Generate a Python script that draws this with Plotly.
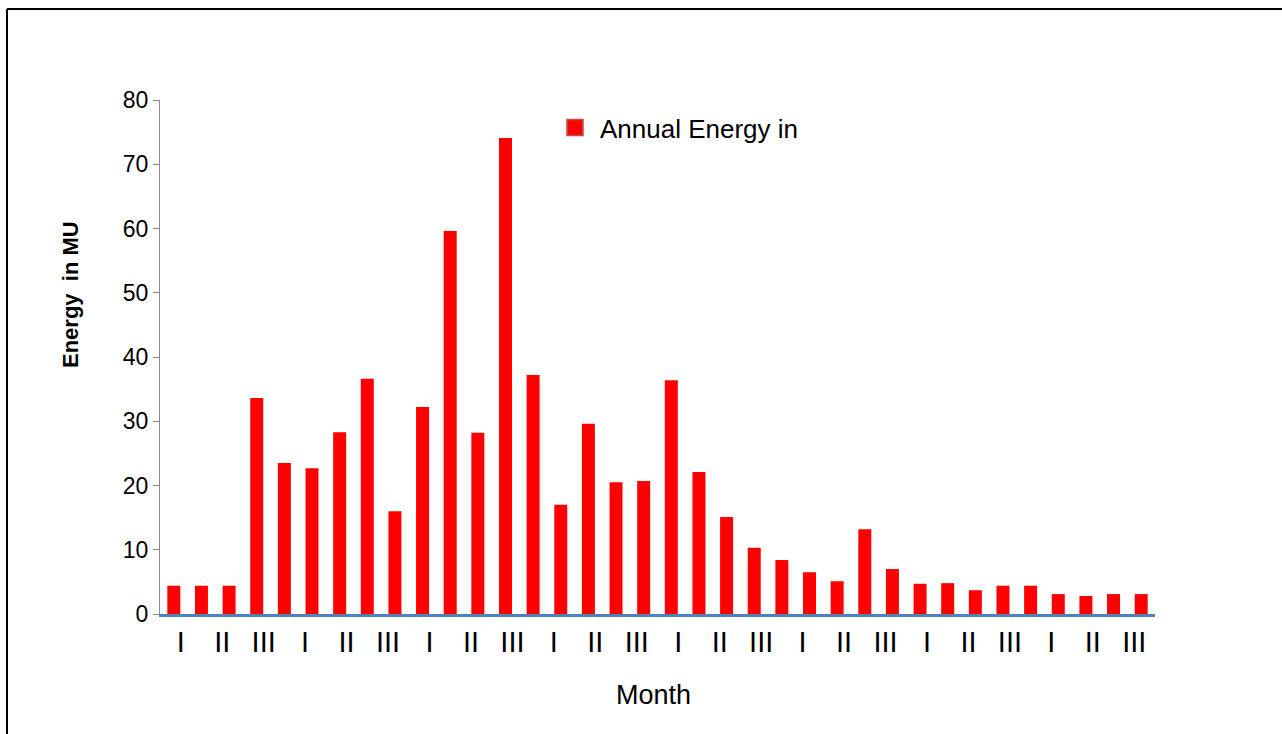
import plotly.graph_objects as go

# Ten-day periods (I, II, III) for each month, 36 periods in total
periods = list(range(1, 37))
energy_mu = [4.4, 4.4, 4.4, 33.6, 23.5, 22.7, 28.3, 36.6, 16.0, 32.2, 59.6, 28.2,
             74.1, 37.2, 17.0, 29.6, 20.5, 20.7, 36.4, 22.1, 15.1, 10.3, 8.4, 6.5,
             5.1, 13.2, 7.0, 4.7, 4.8, 3.7, 4.4, 4.4, 3.1, 2.8, 3.1, 3.1]

# Category labels printed under the axis
period_labels = ["I", "II", "III"] * 8
y_ticks = [0, 10, 20, 30, 40, 50, 60, 70, 80]
series_name = "Annual Energy in"

W, H = 1282, 734
L, R, T, B = 160, 127, 100, 120
font = "Liberation Sans, Arial, sans-serif"


def px_x(p):
    return (p - L) / (W - L - R)


def px_y(p):
    return (H - B - p) / (H - T - B)


fig = go.Figure()
fig.add_trace(go.Bar(
    x=periods, y=energy_mu, name=series_name,
    marker=dict(color="#ff0000", line=dict(width=0)),
    width=0.47, xaxis="x", yaxis="y", showlegend=False,
))
# legend key drawn as a larger red square
fig.add_trace(go.Scatter(
    x=[None], y=[None], name=series_name, mode="markers",
    marker=dict(symbol="square", size=17, color="#ff0000",
                line=dict(color="#c0504d", width=1.5)),
    showlegend=True, hoverinfo="skip",
))
# carrier for the period label axis
fig.add_trace(go.Scatter(
    x=list(range(len(period_labels))), y=[None] * len(period_labels),
    xaxis="x2", yaxis="y", mode="markers", showlegend=False, hoverinfo="skip",
))

fig.update_layout(
    width=W, height=H,
    margin=dict(l=L, r=R, t=T, b=B),
    paper_bgcolor="white", plot_bgcolor="white",
    xaxis=dict(range=[0.5, 36.5], showticklabels=False, ticks="",
               showgrid=False, zeroline=False,
               showline=True, linecolor="#4f81bd", linewidth=2.5),
    xaxis2=dict(overlaying="x", side="bottom", range=[-0.5, len(period_labels) - 0.5],
                tickmode="array", tickvals=list(range(len(period_labels))),
                ticktext=period_labels, ticks="", showgrid=False, zeroline=False,
                showline=False, ticklabelstandoff=8,
                tickfont=dict(family=font, size=29, color="black")),
    yaxis=dict(range=[0, 80], tickmode="array", tickvals=y_ticks,
               showgrid=False, zeroline=False,
               showline=True, linecolor="#8c8c8c", linewidth=1,
               ticks="outside", ticklen=6, tickcolor="#8c8c8c",
               tickfont=dict(family=font, size=23, color="black")),
    legend=dict(x=px_x(550), y=px_y(104), xanchor="left", yanchor="top",
                bgcolor="rgba(0,0,0,0)", itemsizing="trace", itemwidth=40,
                font=dict(family=font, size=26, color="black")),
    bargap=0.5,
)

# axis titles
fig.add_annotation(text="<b>Energy  in MU</b>", textangle=-90,
                   xref="paper", yref="paper", x=px_x(70), y=px_y(295),
                   xanchor="center", yanchor="middle", showarrow=False,
                   font=dict(family=font, size=22, color="black"))
fig.add_annotation(text="Month", xref="paper", yref="paper",
                   x=px_x(653), y=px_y(695), xanchor="center", yanchor="middle",
                   showarrow=False, font=dict(family=font, size=27, color="black"))

# frame lines along the left and top edges of the picture
fig.add_shape(type="line", xref="paper", yref="paper",
              x0=px_x(7), x1=px_x(W + 5), y0=px_y(9), y1=px_y(9),
              line=dict(color="black", width=2))
fig.add_shape(type="line", xref="paper", yref="paper",
              x0=px_x(7), x1=px_x(7), y0=px_y(9), y1=px_y(H + 5),
              line=dict(color="black", width=2))

fig.write_html("out.html")
